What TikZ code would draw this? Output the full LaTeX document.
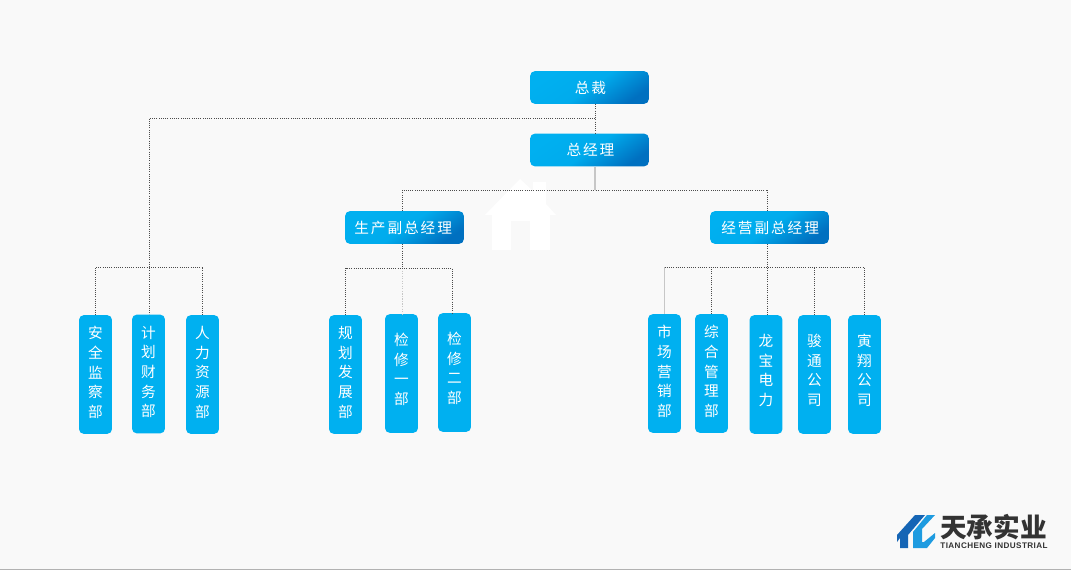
\documentclass[tikz,border=0pt]{standalone}
\usepackage{fontspec}
\setmainfont{Noto Sans CJK SC}
\newfontfamily\latinfont{Liberation Sans}
\usetikzlibrary{positioning,calc}
\definecolor{pagegray}{HTML}{F9F9F9}
\definecolor{boxblue}{HTML}{00B0F0}
\definecolor{deepblue}{HTML}{0070C0}
\definecolor{logodark}{HTML}{1565B5}
\definecolor{logolight}{HTML}{1E9BE0}
\definecolor{logotext}{HTML}{333333}
\tikzset{
    leader/.style={
        rectangle,
        rounded corners=3.5pt,
        minimum width=89pt,
        minimum height=24.5pt,
        inner sep=0pt,
        top color=deepblue,
        bottom color=boxblue,
        middle color=boxblue!92!deepblue,
        shading angle=-145,
        text=white,
        font=\fontsize{11pt}{12pt}\selectfont\addfontfeature{LetterSpace=13}
    },
    dept/.style={
        rectangle,
        rounded corners=3.5pt,
        fill=boxblue,
        minimum width=24.7pt,
        minimum height=89pt,
        inner sep=0pt,
        align=center,
        text=white,
        text depth=4pt,
        font=\fontsize{11pt}{14.7pt}\selectfont
    },
    shortdept/.style={dept, text depth=7pt},
    link/.style={densely dotted, draw=black!70, line width=0.65pt},
    softlink/.style={draw=black!22, line width=0.9pt}
}
\begin{document}
\begin{tikzpicture}[x=0.75pt, y=-0.75pt]
    \useasboundingbox (0,0) rectangle (1071,570);
    \fill[pagegray] (0,0) rectangle (1071,570);
    \draw[black!30, line width=0.8pt] (0,569.5) -- (1071,569.5);

    % House
    \fill[white, even odd rule] (520,179) -- (533,191) -- (533,182) -- (546,182) -- (546,204) -- (556,215)
        -- (550,215) -- (550,250) -- (530,250) -- (530,221) -- (511,221) -- (511,250) -- (492,250)
        -- (492,215) -- (485,215) -- cycle;

    % Nodes
    \node[leader] (president) at (589.5,87.5) {\hspace{1.5pt}总裁};
    \node[leader] (gm) at (589.5,150) {\hspace{1.5pt}总经理};
    \node[leader] (prodvp) at (404.5,227.5) {\hspace{-2pt}生产副总经理};
    \node[leader] (salesvp) at (769.5,227.5) {\hspace{1pt}经营副总经理};

    \node[dept] (safety) at (95.5,374.5) {安\\全\\监\\察\\部};
    \node[dept] (finance) at (148.5,374) {计\\划\\财\\务\\部};
    \node[dept] (hr) at (202.5,374.5) {人\\力\\资\\源\\部};

    \node[dept] (planning) at (345.5,374.5) {规\\划\\发\\展\\部};
    \node[shortdept] (repairone) at (401.5,373.5) {检\\修\\一\\部};
    \node[shortdept] (repairtwo) at (454.5,372.5) {检\\修\\二\\部};

    \node[dept] (market) at (664.5,373.5) {市\\场\\营\\销\\部};
    \node[dept] (admin) at (711.5,373.5) {综\\合\\管\\理\\部};
    \node[shortdept] (longbao) at (766,374.5) {龙\\宝\\电\\力};
    \node[shortdept] (juntong) at (814.5,374.5) {骏\\通\\公\\司};
    \node[shortdept] (yinxiang) at (864.5,374.5) {寅\\翔\\公\\司};

    % Junctions
    \coordinate (topbus) at (595,118);
    \coordinate (staffbus) at (149,267);
    \coordinate (midbus) at (595,190);
    \coordinate (prodbus) at (402.5,268);
    \coordinate (salesbus) at (767.5,267.5);
    \coordinate (prodend) at (452,268);

    % Top of the chart
    \draw[link] (topbus |- president.south) -- (topbus |- gm.north);
    \draw[link] (topbus) -| (finance.north -| staffbus);
    \draw[softlink] (midbus |- gm.south) -- (midbus);
    \draw[link] (prodvp.north -| prodbus) |- (midbus);
    \draw[link] (salesvp.north -| salesbus) |- (midbus);

    % Staff departments
    \draw[link] (safety.north) |- (staffbus) -- (staffbus -| hr.north) -- (hr.north);

    % Production
    \draw[link] (prodbus |- prodvp.south) -- (prodbus);
    \draw[softlink, densely dotted] (prodbus) -- (repairone.north -| prodbus);
    \draw[link] (planning.north) |- (prodend) -- (repairtwo.north -| prodend);

    % Sales
    \draw[link] (salesbus |- salesvp.south) -- (longbao.north -| salesbus);
    \draw[softlink] (market.north) -- (market.north |- salesbus);
    \draw[link] (market.north |- salesbus) -- (yinxiang.north |- salesbus) -- (yinxiang.north);
    \draw[link] (admin.north) -- (admin.north |- salesbus);
    \draw[link] (juntong.north) -- (juntong.north |- salesbus);

    % Logo
    \fill[logodark] (897,535) -- (915,515) -- (925,515) -- (908,535) -- (908,548) -- (900,548) -- (900,538) -- (897,542) -- cycle;
    \fill[logolight] (913,532) -- (927,515) -- (935,515) -- (922,529) -- (922,542) -- (924,542) -- (935,533) -- (935,538) -- (927,548) -- (913,548) -- cycle;
    \node[text=logotext, font=\fontsize{20pt}{21pt}\selectfont\bfseries, inner sep=0pt] (logoname) at (993.5,527.5) {天承实业};
    \node[text=logotext, font=\latinfont\bfseries\fontsize{6.1pt}{7pt}\selectfont\addfontfeature{LetterSpace=5}, inner sep=0pt] (logoline) at (994,545.5) {TIANCHENG INDUSTRIAL};
\end{tikzpicture}
\end{document}
